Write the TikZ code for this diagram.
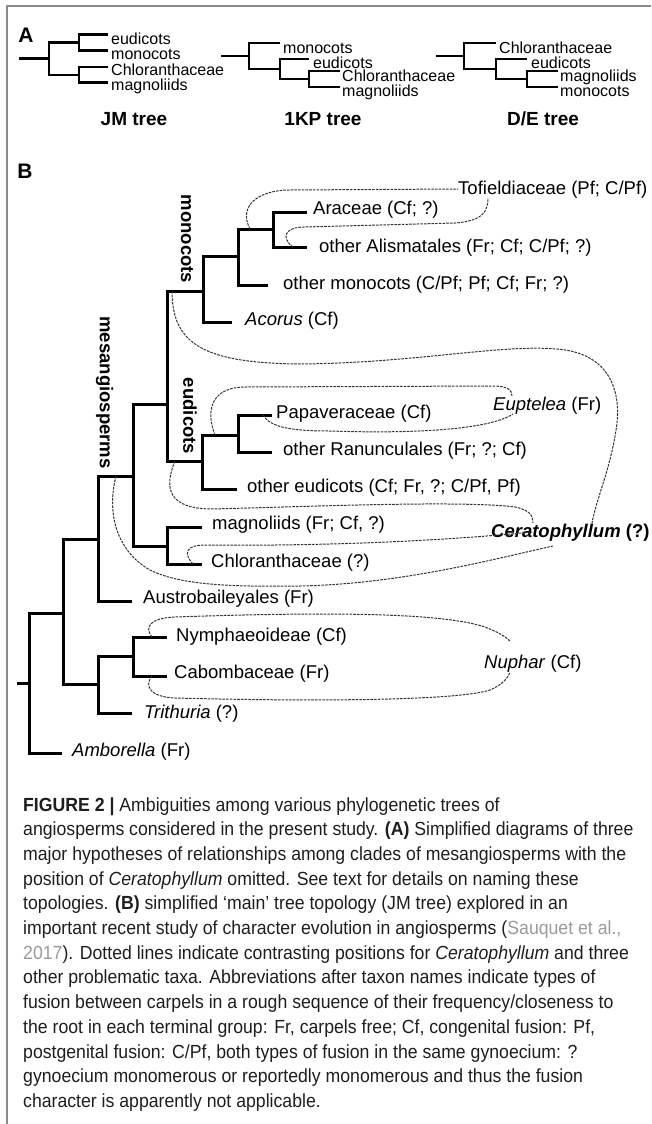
\documentclass[tikz,border=0pt]{standalone}
\usepackage{fontspec}
\setmainfont{Liberation Sans}
\newfontfamily\capfont[FakeStretch=0.93]{Liberation Sans}

\definecolor{altline}{HTML}{333333}
\definecolor{framegray}{HTML}{8C8C8C}
\definecolor{captext}{HTML}{1E1E1E}
\definecolor{citegray}{HTML}{9A9A9A}

\tikzset{>=latex,
                 branch/.style={line width=3pt},
                   twig/.style={line width=2.4pt},
                    alt/.style={draw=altline, line width=1pt, dash pattern=on 2.6pt off 1.1pt},
                  taxon/.style={anchor=west, inner sep=0pt, text height=13.9pt, text depth=3.7pt, font=\fontsize{18.5}{20}\selectfont},
                   tipA/.style={anchor=west, inner sep=0pt, text height=12pt, text depth=3.2pt, font=\fontsize{16}{18}\selectfont},
                  clade/.style={rotate=-90, inner sep=0pt, font=\bfseries\fontsize{18.5}{20}\selectfont},
               treename/.style={inner sep=0pt, font=\bfseries\fontsize{19}{21}\selectfont},
                  panel/.style={inner sep=0pt, font=\bfseries\fontsize{21}{23}\selectfont},
                capline/.style={anchor=base west, inner sep=0pt, text=captext, font=\capfont\fontsize{19}{25}\selectfont},
                framing/.style={draw=framegray, line width=1.6pt}}

\begin{document}
\begin{tikzpicture}[x=1pt, y=-1pt]
            \useasboundingbox (0, 0) rectangle (651, 1124);
            \draw[framing] (7, 1124) -- (7, 6) -- (651, 6);

            \node[panel] at ( 26,  35) (lblA) {A};
            \node[panel] at ( 25, 171.5) (lblB) {B};

            \coordinate (jS)  at ( 19, 58.6);
            \coordinate (jR)  at ( 49, 58.6);
            \coordinate (jU)  at ( 79, 42.5);
            \coordinate (jL)  at ( 79, 74.75);
            \coordinate (jEu) at (108, 34.5);
            \coordinate (jMo) at (108, 50.5);
            \coordinate (jCh) at (108, 67);
            \coordinate (jMa) at (108, 82.5);
            \draw[twig] (jS) -- (jR);
            \draw[twig] (jU) -| (jR) |- (jL);
            \draw[twig] (jEu) -| (jU) |- (jMo);
            \draw[twig] (jCh) -| (jL) |- (jMa);
            \node[tipA] at (111, 40.5) (jEuL) {eudicots};
            \node[tipA] at (111, 55.5) (jMoL) {monocots};
            \node[tipA] at (111, 71)   (jChL) {Chloranthaceae};
            \node[tipA] at (111, 86.5) (jMaL) {magnoliids};
            \node[treename] at (134, 119) (jm) {JM tree};

            \coordinate (kS)  at (221, 56);
            \coordinate (kR)  at (249, 56);
            \coordinate (k2)  at (280, 69);
            \coordinate (k3)  at (309, 79);
            \coordinate (kMo) at (280, 43);
            \coordinate (kEu) at (309, 59);
            \coordinate (kCh) at (340, 71);
            \coordinate (kMa) at (340, 87);
            \draw[twig] (kS) -- (kR);
            \draw[twig] (kMo) -| (kR) |- (k2);
            \draw[twig] (kEu) -| (k2) |- (k3);
            \draw[twig] (kCh) -| (k3) |- (kMa);
            \node[tipA] at (283, 49) (kMoL) {monocots};
            \node[tipA] at (313, 64) (kEuL) {eudicots};
            \node[tipA] at (342, 77) (kChL) {Chloranthaceae};
            \node[tipA] at (342, 92) (kMaL) {magnoliids};
            \node[treename] at (323, 119) (kp) {1KP tree};

            \coordinate (dS)  at (436, 56);
            \coordinate (dR)  at (464, 56);
            \coordinate (d2)  at (496, 69);
            \coordinate (d3)  at (527, 79);
            \coordinate (dCh) at (496, 43);
            \coordinate (dEu) at (527, 59);
            \coordinate (dMa) at (558, 71);
            \coordinate (dMo) at (558, 87);
            \draw[twig] (dS) -- (dR);
            \draw[twig] (dCh) -| (dR) |- (d2);
            \draw[twig] (dEu) -| (d2) |- (d3);
            \draw[twig] (dMa) -| (d3) |- (dMo);
            \node[tipA] at (499, 49) (dChL) {Chloranthaceae};
            \node[tipA] at (531, 64) (dEuL) {eudicots};
            \node[tipA] at (560, 77) (dMaL) {magnoliids};
            \node[tipA] at (560, 92) (dMoL) {monocots};
            \node[treename] at (543, 119) (de) {D/E tree};

            \coordinate (stub)    at ( 17, 683);
            \coordinate (root)    at ( 29, 683);
            \coordinate (angio)   at ( 63, 613);
            \coordinate (meso)    at ( 98, 539);
            \coordinate (mesoC)   at (133, 476);
            \coordinate (monoEu)  at (167, 404);
            \coordinate (mono)    at (203, 291);
            \coordinate (monoA)   at (238, 256);
            \coordinate (alism)   at (273, 229);
            \coordinate (eud)     at (202, 461);
            \coordinate (ranun)   at (238, 435);
            \coordinate (magChl)  at (167, 546);
            \coordinate (nymTri)  at ( 98, 684);
            \coordinate (nymph)   at (133, 656);
            \coordinate (amboT)   at ( 62, 753);
            \coordinate (austroT) at (132, 601);
            \coordinate (acorusT) at (232, 322);
            \coordinate (omonoT)  at (268, 285);
            \coordinate (araT)    at (307, 212);
            \coordinate (alismT)  at (307, 247);
            \coordinate (oeudT)   at (237, 489);
            \coordinate (papT)    at (272, 415);
            \coordinate (ranT)    at (272, 452);
            \coordinate (magT)    at (202, 527);
            \coordinate (chlT)    at (202, 564);
            \coordinate (trithT)  at (132, 713);
            \coordinate (nymT)    at (167, 637);
            \coordinate (cabT)    at (167, 676);

            \draw[branch] (stub) -- (root);
            \draw[branch] (angio) -| (root) |- (amboT);
            \draw[branch] (meso) -| (angio) |- (nymTri);
            \draw[branch] (mesoC) -| (meso) |- (austroT);
            \draw[branch] (monoEu) -| (mesoC) |- (magChl);
            \draw[branch] (mono) -| (monoEu) |- (eud);
            \draw[branch] (monoA) -| (mono) |- (acorusT);
            \draw[branch] (alism) -| (monoA) |- (omonoT);
            \draw[branch] (araT) -| (alism) |- (alismT);
            \draw[branch] (ranun) -| (eud) |- (oeudT);
            \draw[branch] (papT) -| (ranun) |- (ranT);
            \draw[branch] (magT) -| (magChl) |- (chlT);
            \draw[branch] (nymph) -| (nymTri) |- (trithT);
            \draw[branch] (nymT) -| (nymph) |- (cabT);

            \node[clade] at (187,   239)   (cMono) {monocots};
            \node[clade] at (190,   416)   (cEud)  {eudicots};
            \node[clade] at (104.5, 392.5) (cMeso) {mesangiosperms};

            \node[taxon] at (458, 189) (tofi)     {Tofieldiaceae (Pf; C/Pf)};
            \node[taxon] at (313, 209) (ara)      {Araceae (Cf; ?)};
            \node[taxon] at (319, 247) (alismL)   {other Alismatales (Fr; Cf; C/Pf; ?)};
            \node[taxon] at (283, 284) (omono)    {other monocots (C/Pf; Pf; Cf; Fr; ?)};
            \node[taxon] at (245, 320) (acorus)   {\textit{Acorus} (Cf)};
            \node[taxon] at (276, 413) (papav)    {Papaveraceae (Cf)};
            \node[taxon] at (493, 405) (euptelea) {\textit{Euptelea} (Fr)};
            \node[taxon] at (283, 450) (ranunL)   {other Ranunculales (Fr; ?; Cf)};
            \node[taxon] at (247, 487) (oeud)     {other eudicots (Cf; Fr, ?; C/Pf, Pf)};
            \node[taxon] at (212, 524) (magn)     {magnoliids (Fr; Cf, ?)};
            \node[taxon] at (491, 532) (cerato)   {\textbf{\textit{Ceratophyllum} (?)}};
            \node[taxon] at (211, 562) (chlor)    {Chloranthaceae (?)};
            \node[taxon] at (143, 598) (austro)   {Austrobaileyales (Fr)};
            \node[taxon] at (176, 636) (nymL)     {Nymphaeoideae (Cf)};
            \node[taxon] at (484, 663) (nuphar)   {\textit{Nuphar} (Cf)};
            \node[taxon] at (174, 673) (cabomb)   {Cabombaceae (Fr)};
            \node[taxon] at (144, 713) (trith)    {\textit{Trithuria} (?)};
            \node[taxon] at ( 72, 751) (ambo)     {\textit{Amborella} (Fr)};

            \coordinate (s1)  at (250, 229);
            \coordinate (s2)  at (293, 247);
            \coordinate (s3)  at (172, 291);
            \coordinate (s4)  at (215, 435);
            \coordinate (s5)  at (263, 415);
            \coordinate (s6)  at (175, 461);
            \coordinate (s7)  at (193, 564);
            \coordinate (s8)  at (116, 476);
            \coordinate (s9)  at (152, 637);
            \coordinate (s10) at (152, 676);

            \draw[alt] (s1) .. controls (238, 206) and (258, 190) .. (290, 190) -- (tofi.west);
            \draw[alt] (s2) .. controls (281, 238) and (284, 227) .. (305, 227) -- (455, 223)
                .. controls (482, 221) and (488, 212) .. ([xshift=30pt]tofi.south west);
            \draw[alt] (s3) .. controls (172, 345) and (205, 363) .. (300, 364)
                .. controls (420, 363) and (510, 342) .. (565, 350)
                .. controls (612, 357) and (622, 395) .. (616, 430)
                .. controls (610, 470) and (596, 500) .. ([xshift=101pt]cerato.north west);
            \draw[alt] (s4) .. controls (205, 410) and (212, 387) .. (245, 387) -- (492, 386)
                .. controls (508, 386) and (512, 390) .. ([xshift=19pt]euptelea.north west);
            \draw[alt] (s5) .. controls (270, 427) and (290, 431) .. (330, 431)
                .. controls (420, 434) and (490, 429) .. ([xshift=20pt]euptelea.south west);
            \draw[alt] (s6) .. controls (163, 490) and (170, 508) .. (210, 509)
                .. controls (300, 507) and (460, 500) .. (515, 507)
                .. controls (530, 510) and (533, 516) .. ([xshift=42pt]cerato.north west);
            \draw[alt] (s7) .. controls (183, 553) and (186, 545) .. (205, 545)
                .. controls (300, 546) and (420, 543) .. ([xshift=41pt]cerato.west);
            \draw[alt] (s8) .. controls (106, 515) and (118, 552) .. (150, 570)
                .. controls (180, 585) and (230, 587) .. (300, 586)
                .. controls (400, 584) and (490, 560) .. ([xshift=62pt, yshift=-5pt]cerato.south west);
            \draw[alt] (s9) .. controls (144, 627) and (150, 618) .. (175, 617)
                .. controls (320, 612) and (440, 612) .. (485, 627)
                .. controls (498, 632) and (506, 637) .. ([xshift=26pt, yshift=13pt]nuphar.north west);
            \draw[alt] (s10) .. controls (144, 686) and (150, 697) .. (175, 698)
                .. controls (330, 702) and (460, 700) .. (490, 690)
                .. controls (502, 685) and (508, 678) .. ([xshift=26pt]nuphar.south west);

            \foreach \txt [count=\i] in {
                {\textbf{FIGURE 2 |} Ambiguities among various phylogenetic trees of},
                {angiosperms considered in the present study. \textbf{(A)} Simplified diagrams of three},
                {major hypotheses of relationships among clades of mesangiosperms with the},
                {position of \textit{Ceratophyllum} omitted. See text for details on naming these},
                {topologies. \textbf{(B)} simplified ‘main’ tree topology (JM tree) explored in an},
                {important recent study of character evolution in angiosperms ({\color{citegray}Sauquet et al.,}},
                {{\color{citegray}2017}). Dotted lines indicate contrasting positions for \textit{Ceratophyllum} and three},
                {other problematic taxa. Abbreviations after taxon names indicate types of},
                {fusion between carpels in a rough sequence of their frequency/closeness to},
                {the root in each terminal group: Fr, carpels free; Cf, congenital fusion: Pf,},
                {postgenital fusion: C/Pf, both types of fusion in the same gynoecium: ?},
                {gynoecium monomerous or reportedly monomerous and thus the fusion},
                {character is apparently not applicable.}}
                \node[capline] at (23, {811+24.7*(\i-1)}) (cap\i) {\txt};
        \end{tikzpicture}
\end{document}
